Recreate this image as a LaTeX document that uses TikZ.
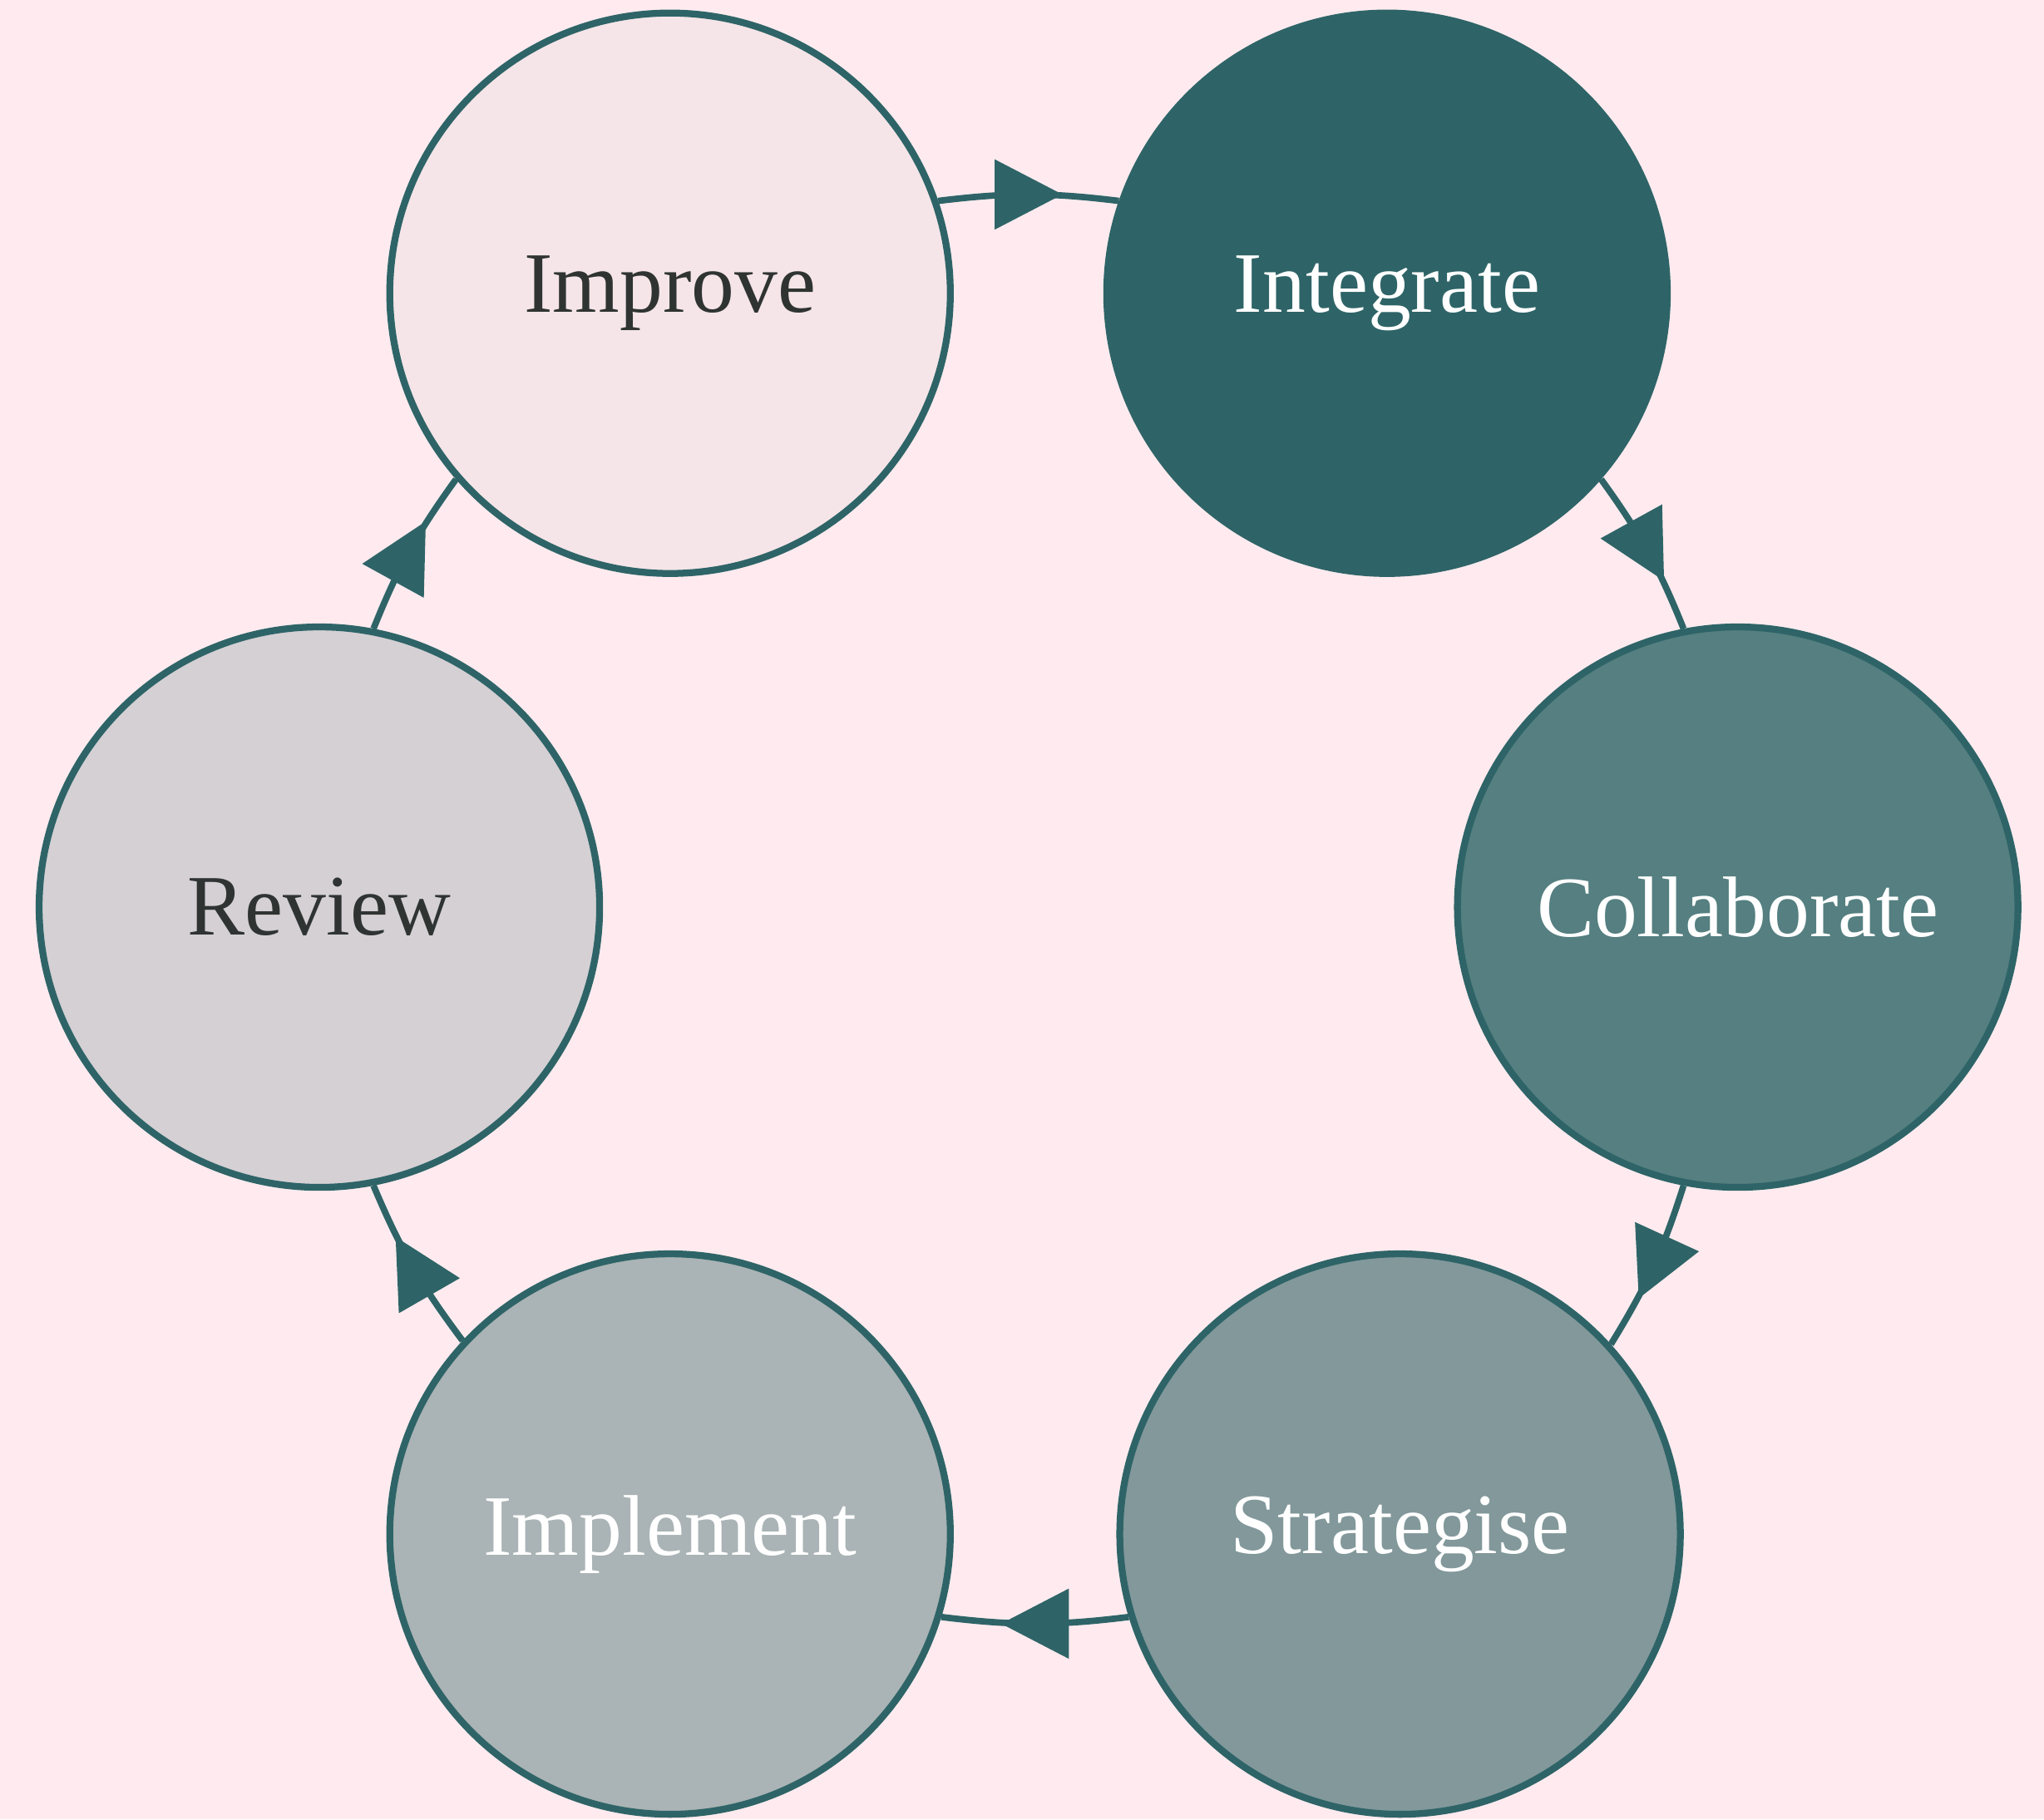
\documentclass[tikz,border=0pt]{standalone}
\usepackage{fontspec}
\setmainfont{Liberation Serif}
\usetikzlibrary{decorations.markings}

\definecolor{bgpink}{HTML}{FFEBEF}
\definecolor{edgeteal}{HTML}{2E6467}
\definecolor{darktext}{HTML}{2F3432}
\definecolor{fillimprove}{HTML}{F5E5E8}
\definecolor{fillintegrate}{HTML}{2E6467}
\definecolor{fillcollab}{HTML}{557F80}
\definecolor{fillstrat}{HTML}{82989B}
\definecolor{fillimpl}{HTML}{AAB3B5}
\definecolor{fillreview}{HTML}{D4D0D4}

\begin{document}
\begin{tikzpicture}[
    stage/.style={circle, draw=edgeteal, line width=1.5pt, minimum size=4.3cm,
        inner sep=0pt, font=\fontsize{18.8}{22}\selectfont},
    flow/.style={draw=edgeteal, line width=1.4pt, postaction={decorate},
        decoration={markings, mark=at position 0.5 with
            {\fill[edgeteal] (-0.26,-0.27) -- (0.26,0) -- (-0.26,0.27) -- cycle;}}}
]
    \fill[bgpink] (0,0) rectangle (15.68,13.96);
    \useasboundingbox (0,0) rectangle (15.68,13.96);

    % the six stages of the cycle
    \node[stage, fill=fillimprove, text=darktext] (improve) at (5.14,11.71) {Improve};
    \node[stage, fill=fillintegrate, text=white] (integrate) at (10.64,11.71) {Integrate};
    \node[stage, fill=fillcollab, text=white] (collaborate) at (13.33,7.00) {Collaborate};
    \node[stage, fill=fillstrat, text=white] (strategise) at (10.74,2.19) {Strategise};
    \node[stage, fill=fillimpl, text=white] (implement) at (5.14,2.19) {Implement};
    \node[stage, fill=fillreview, text=darktext] (review) at (2.45,7.00) {Review};

    % clockwise arrows, arrowhead in the middle of each edge
    \draw[flow] (improve.19) to[bend left=7] (integrate.161);
    \draw[flow] (integrate.-41) to[bend left=7] (collaborate.101);
    \draw[flow] (collaborate.-101) to[bend left=7] (strategise.42);
    \draw[flow] (strategise.197) to[bend left=7] (implement.-17);
    \draw[flow] (implement.137) to[bend left=7] (review.-79);
    \draw[flow] (review.79) to[bend left=7] (improve.221);
\end{tikzpicture}
\end{document}
